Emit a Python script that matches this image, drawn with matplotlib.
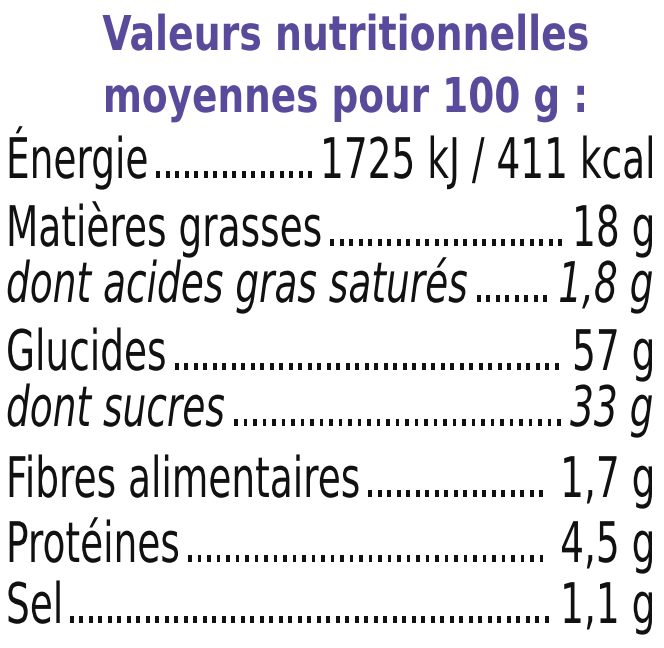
import matplotlib
matplotlib.use("Agg")
import matplotlib.pyplot as plt
from matplotlib.textpath import TextPath
from matplotlib.patches import PathPatch
from matplotlib.font_manager import FontProperties
from matplotlib.transforms import Affine2D

title_lines = ["Valeurs nutritionnelles", "moyennes pour 100 g :"]
labels = ["Énergie", "Matières grasses", "dont acides gras saturés", "Glucides",
          "dont sucres", "Fibres alimentaires", "Protéines", "Sel"]
values = ["1725 kJ / 411 kcal", "18 g", "1,8 g", "57 g", "33 g", "1,7 g", "4,5 g", "1,1 g"]
italic = [False, False, True, False, True, False, False, False]

W, H = 664, 648
fig = plt.figure(figsize=(W/100, H/100), dpi=100)
ax = fig.add_axes([0, 0, 1, 1])
ax.set_xlim(0, W); ax.set_ylim(H, 0); ax.axis("off")
purple = "#5a4a9c"

def tp(s, size, bold=False, it=False):
    fp = FontProperties(family="DejaVu Sans", weight="bold" if bold else "normal",
                        style="italic" if it else "normal")
    return TextPath((0, 0), s, size=size, prop=fp)

def width(p):
    e = p.get_extents()
    return e.x1

def place(p, x, ybase, sx, color):
    tr = Affine2D().scale(sx, -1).translate(x, ybase)
    ax.add_patch(PathPatch(tr.transform_path(p), fc=color, ec="none", lw=0))

# title
for line, yb, w in zip(title_lines, [50, 112], [485, 478]):
    p = tp(line, 48, bold=True)
    e = p.get_extents()
    sx = w / (e.x1 - e.x0)
    place(p, 345 - w / 2 - e.x0 * sx, yb, sx, purple)

S = 56
ref = tp(values[0], S)
sx = 332 / width(ref)
ys = [178, 246, 302, 370, 426, 497, 562, 623]
for lab, val, it, yb in zip(labels, values, italic, ys):
    pl = tp(lab, S, it=it)
    pv = tp(val, S, it=it)
    place(pl, 6, yb, sx, "#111111")
    xv = 652 - width(pv) * sx
    place(pv, xv, yb, sx, "#111111")
    x0 = 6 + width(pl) * sx + 6
    x1 = xv - 6
    dot = tp(".", S)
    dw = 9.5
    n = int((x1 - x0) / dw)
    for i in range(n):
        place(dot, x0 + i * dw, yb, sx, "#111111")
fig.savefig("out.png", dpi=100)
